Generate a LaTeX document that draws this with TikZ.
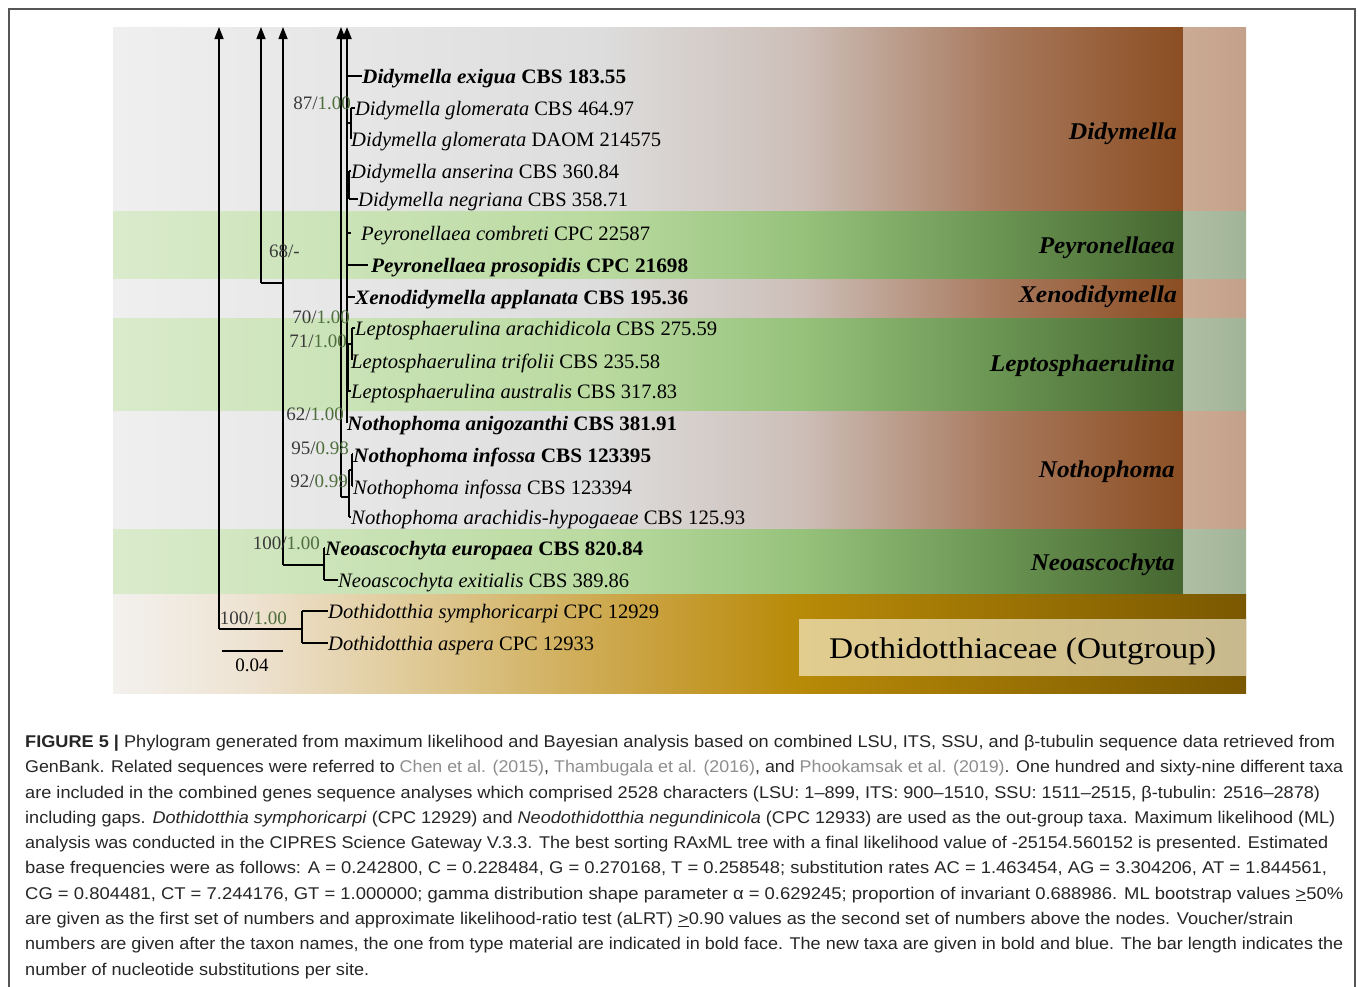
\documentclass[tikz,border=0pt]{standalone}
\usepackage{fontspec}
\usepackage{graphicx}
\setmainfont{Liberation Serif}
\newfontfamily\capfont{Liberation Sans}
\usetikzlibrary{arrows.meta}

\definecolor{bb0}{HTML}{EFEFEF}
\definecolor{bb1}{HTML}{DDDDDD}
\definecolor{bb2}{HTML}{CDBFB8}
\definecolor{bb3}{HTML}{A8795D}
\definecolor{bb4}{HTML}{8B4E22}
\definecolor{gg0}{HTML}{DAEBCC}
\definecolor{gg1}{HTML}{BADAA0}
\definecolor{gg2}{HTML}{96C27C}
\definecolor{gg3}{HTML}{6A9452}
\definecolor{gg4}{HTML}{456630}
\definecolor{oo0}{HTML}{F3F1EE}
\definecolor{oo1}{HTML}{EEE3D2}
\definecolor{oo2}{HTML}{DCC48A}
\definecolor{oo3}{HTML}{C9A13E}
\definecolor{oo4}{HTML}{B88A08}
\definecolor{oo5}{HTML}{7A5800}
\definecolor{boxl}{HTML}{E2CD8F}
\definecolor{boxr}{HTML}{C8B98E}
\definecolor{sbl}{HTML}{CCAB95}
\definecolor{sbr}{HTML}{C3A08A}
\definecolor{sgl}{HTML}{AEBFA4}
\definecolor{sgr}{HTML}{A2B497}
\definecolor{supgreen}{HTML}{4E6E3C}
\definecolor{supgray}{HTML}{3A3A3A}
\definecolor{capgray}{HTML}{8E8E8E}
\definecolor{captext}{HTML}{262626}
\definecolor{framegray}{HTML}{555555}

\pgfdeclarehorizontalshading{bandB}{100bp}{color(0bp)=(bb0); color(25bp)=(bb0); color(47.8bp)=(bb1); color(57.1bp)=(bb2); color(66.4bp)=(bb3); color(75bp)=(bb4); color(100bp)=(bb4)}
\pgfdeclarehorizontalshading{bandG}{100bp}{color(0bp)=(gg0); color(25bp)=(gg0); color(47.8bp)=(gg1); color(57.1bp)=(gg2); color(66.4bp)=(gg3); color(75bp)=(gg4); color(100bp)=(gg4)}
\pgfdeclarehorizontalshading{bandO}{100bp}{color(0bp)=(oo0); color(25bp)=(oo0); color(31bp)=(oo1); color(39.9bp)=(oo2); color(48.7bp)=(oo3); color(55.3bp)=(oo4); color(75bp)=(oo5); color(100bp)=(oo5)}

\newcommand{\tiplab}[3]{\resizebox{#1pt}{\height}{\textit{#2} #3}}
\newcommand{\tipbold}[3]{\resizebox{#1pt}{\height}{\bfseries\textit{#2} #3}}
\newcommand{\fitw}[2]{\resizebox{#1pt}{\height}{#2}}
\newcommand{\sv}[2]{#1/\textcolor{supgreen}{#2}}

\begin{document}
\begin{tikzpicture}[x=1pt,y=-1pt,
  branch/.style={line width=1.4pt,black},
  spine/.style={line width=2.2pt,black},
  uparrow/.style={-{Triangle[length=12pt,width=9pt]}},
  tipnode/.style={anchor=west,inner sep=0pt,yshift=-3pt,font=\fontsize{20.5}{20.5}\selectfont},
  genusnode/.style={anchor=east,inner sep=0pt,font=\fontsize{24}{24}\selectfont\bfseries\itshape},
  supval/.style={anchor=east,inner sep=0pt,font=\fontsize{19}{19}\selectfont,text=supgray},
  capline/.style={anchor=west,inner sep=0pt,font=\capfont\fontsize{17}{17}\selectfont,text=captext}]
\useasboundingbox (0,0) rectangle (1358,986);
\fill[white] (0,0) rectangle (1358,986);
\draw[framegray,line width=1.3pt] (9,987) -- (9,9) -- (1355,9) -- (1355,987);

% bands
\shade[shading=bandB] (113,27) rectangle (1183,211);
\shade[shading=bandG] (113,211) rectangle (1183,279);
\shade[shading=bandB] (113,279) rectangle (1183,318);
\shade[shading=bandG] (113,318) rectangle (1183,411);
\shade[shading=bandB] (113,411) rectangle (1183,529);
\shade[shading=bandG] (113,529) rectangle (1183,594);
\shade[left color=sbl,right color=sbr] (1183,27) rectangle (1246,211);
\shade[left color=sgl,right color=sgr] (1183,211) rectangle (1246,279);
\shade[left color=sbl,right color=sbr] (1183,279) rectangle (1246,318);
\shade[left color=sgl,right color=sgr] (1183,318) rectangle (1246,411);
\shade[left color=sbl,right color=sbr] (1183,411) rectangle (1246,529);
\shade[left color=sgl,right color=sgr] (1183,529) rectangle (1246,594);
\shade[shading=bandO] (113,594) rectangle (1246,693);
\shade[left color=boxl,right color=boxr] (799,619) rectangle (1246,675);
\node[anchor=west,inner sep=0pt,font=\fontsize{30}{30}\selectfont] (outg) at (829,651) {\fitw{387}{Dothidotthiaceae (Outgroup)}};

% genus labels
\node[genusnode] (gDid) at (1177,134) {\fitw{108}{Didymella}};
\node[genusnode] (gPey) at (1175,248) {\fitw{136}{Peyronellaea}};
\node[genusnode] (gXen) at (1177,297) {\fitw{158}{Xenodidymella}};
\node[genusnode] (gLep) at (1175,366) {\fitw{185}{Leptosphaerulina}};
\node[genusnode] (gNot) at (1175,472) {\fitw{136}{Nothophoma}};
\node[genusnode] (gNeo) at (1175,565) {\fitw{144}{Neoascochyta}};

% tip labels
\node[tipnode] (L1) at (362,76) {\tipbold{264}{Didymella exigua}{CBS 183.55}};
\node[tipnode] (L2) at (355,108) {\tiplab{279}{Didymella glomerata}{CBS 464.97}};
\node[tipnode] (L3) at (351,139) {\tiplab{310}{Didymella glomerata}{DAOM 214575}};
\node[tipnode] (L4) at (351,171) {\tiplab{268}{Didymella anserina}{CBS 360.84}};
\node[tipnode] (L5) at (358,199) {\tiplab{270}{Didymella negriana}{CBS 358.71}};
\node[tipnode] (L6) at (361,233) {\tiplab{289}{Peyronellaea combreti}{CPC 22587}};
\node[tipnode] (L7) at (371,265) {\tipbold{317}{Peyronellaea prosopidis}{CPC 21698}};
\node[tipnode] (L8) at (355,297) {\tipbold{333}{Xenodidymella applanata}{CBS 195.36}};
\node[tipnode] (L9) at (355,328) {\tiplab{362}{Leptosphaerulina arachidicola}{CBS 275.59}};
\node[tipnode] (L10) at (351,360) {\tiplab{309}{Leptosphaerulina trifolii}{CBS 235.58}};
\node[tipnode] (L11) at (351,391) {\tiplab{326}{Leptosphaerulina australis}{CBS 317.83}};
\node[tipnode] (L12) at (347,423) {\tipbold{330}{Nothophoma anigozanthi}{CBS 381.91}};
\node[tipnode] (L13) at (353,454) {\tipbold{298}{Nothophoma infossa}{CBS 123395}};
\node[tipnode] (L14) at (353,486) {\tiplab{279}{Nothophoma infossa}{CBS 123394}};
\node[tipnode] (L15) at (351,517) {\tiplab{394}{Nothophoma arachidis-hypogaeae}{CBS 125.93}};
\node[tipnode] (L16) at (325,548) {\tipbold{318}{Neoascochyta europaea}{CBS 820.84}};
\node[tipnode] (L17) at (338,580) {\tiplab{291}{Neoascochyta exitialis}{CBS 389.86}};
\node[tipnode] (L18) at (328,611) {\tiplab{331}{Dothidotthia symphoricarpi}{CPC 12929}};
\node[tipnode] (L19) at (328,643) {\tiplab{266}{Dothidotthia aspera}{CPC 12933}};

% coordinates
\coordinate (a1) at (219,27);
\coordinate (a2) at (261,27);
\coordinate (a3) at (283,27);
\coordinate (a4) at (341,27);
\coordinate (a5) at (347,27);
\coordinate (root) at (219,629);
\coordinate (dn) at (302,629);
\coordinate (dt1) at (302,611);
\coordinate (dt2) at (302,643);
\coordinate (nb) at (283,565);
\coordinate (nn) at (324,565);
\coordinate (nt1) at (324,548);
\coordinate (nt2) at (324,580);
\coordinate (s0) at (261,283);
\coordinate (s1) at (283,283);
\coordinate (sp) at (347,423);
\coordinate (b341) at (341,497);
\coordinate (nob) at (349,497);
\coordinate (no1) at (349,470);
\coordinate (no2) at (349,517);
\coordinate (ni0) at (352,470);
\coordinate (ni1) at (352,454);
\coordinate (ni2) at (352,486);
\coordinate (e0) at (347,76);
\coordinate (g0) at (347,123);
\coordinate (g1) at (351,123);
\coordinate (g2) at (351,108);
\coordinate (g3) at (351,139);
\coordinate (an0) at (347,185);
\coordinate (an1) at (349,171);
\coordinate (an2) at (349,199);
\coordinate (an3) at (349,185);
\coordinate (pc0) at (347,233);
\coordinate (pc1) at (351,233);
\coordinate (pp0) at (347,265);
\coordinate (pp1) at (368,265);
\coordinate (x0) at (347,297);
\coordinate (lp0) at (347,368);
\coordinate (lp1) at (348,344);
\coordinate (lp2) at (348,391);
\coordinate (lp3) at (348,368);
\coordinate (li0) at (352,344);
\coordinate (li1) at (352,328);
\coordinate (li2) at (352,360);
\coordinate (sb1) at (222,651);
\coordinate (sb2) at (283,651);

% tree
\draw[branch,uparrow] (root) -- (a1);
\draw[branch] (root) -- (dn);
\draw[branch] (dt1) -- (dt2);
\draw[branch] (dt1) -- (dt1 -| L18.west);
\draw[branch] (dt2) -- (dt2 -| L19.west);
\draw[branch,uparrow] (nb) -- (a3);
\draw[branch] (nb) -- (nn);
\draw[branch] (nt1) -- (nt2);
\draw[branch] (nt1) -- (nt1 -| L16.west);
\draw[branch] (nt2) -- (nt2 -| L17.west);
\draw[branch,uparrow] (s0) -- (a2);
\draw[branch] (s0) -- (s1);
\draw[branch,uparrow] (b341) -- (a4);
\draw[branch] (b341) -- (nob);
\draw[spine,uparrow] (sp) -- (a5);
\draw[branch] (no1) -- (no2);
\draw[branch] (no2) -- (no2 -| L15.west);
\draw[branch] (no1) -- (ni0);
\draw[branch] (ni1) -- (ni2);
\draw[branch] (ni1) -- (ni1 -| L13.west);
\draw[branch] (ni2) -- (ni2 -| L14.west);
\draw[branch] (e0) -- (e0 -| L1.west);
\draw[branch] (g0) -- (g1);
\draw[branch] (g2) -- (g3);
\draw[branch] (g2) -- (g2 -| L2.west);
\draw[spine] (an1) -- (an2);
\draw[branch] (an0) -- (an3);
\draw[branch] (an1) -- (an1 -| L4.west);
\draw[branch] (an2) -- (an2 -| L5.west);
\draw[branch] (pc0) -- (pc1);
\draw[branch] (pp0) -- (pp1);
\draw[branch] (x0) -- (x0 -| L8.west);
\draw[branch] (lp1) -- (lp2);
\draw[branch] (lp0) -- (lp3);
\draw[branch] (lp2) -- (lp2 -| L11.west);
\draw[branch] (lp1) -- (li0);
\draw[branch] (li1) -- (li2);
\draw[branch] (li1) -- (li1 -| L9.west);
\draw[line width=1.2pt] (sb1) -- (sb2);
\node[inner sep=0pt,font=\fontsize{19}{19}\selectfont] (sbl) at (252,665) {0.04};

% support values
\node[supval] (s87) at (351,103) {\sv{87}{1.00}};
\node[supval] (s68) at (300,251) {68/-};
\node[supval] (s70) at (350,317) {\sv{70}{1.00}};
\node[supval] (s71) at (347,341) {\sv{71}{1.00}};
\node[supval] (s62) at (344,414) {\sv{62}{1.00}};
\node[supval] (s95) at (349,448) {\sv{95}{0.98}};
\node[supval] (s92) at (348,481) {\sv{92}{0.99}};
\node[supval] (s100a) at (320,543) {\sv{100}{1.00}};
\node[supval] (s100b) at (287,618) {\sv{100}{1.00}};

% caption
\node[capline] (c1) at (25,743) {\fitw{1310}{\textbf{FIGURE 5 |} Phylogram generated from maximum likelihood and Bayesian analysis based on combined LSU, ITS, SSU, and β-tubulin sequence data retrieved from}};
\node[capline] (c2) at (25,768.3) {\fitw{1318}{GenBank. Related sequences were referred to \textcolor{capgray}{Chen et al. (2015)}, \textcolor{capgray}{Thambugala et al. (2016)}, and \textcolor{capgray}{Phookamsak et al. (2019)}. One hundred and sixty-nine different taxa}};
\node[capline] (c3) at (25,793.6) {\fitw{1295}{are included in the combined genes sequence analyses which comprised 2528 characters (LSU: 1–899, ITS: 900–1510, SSU: 1511–2515, β-tubulin: 2516–2878)}};
\node[capline] (c4) at (25,818.9) {\fitw{1310}{including gaps. \textit{Dothidotthia symphoricarpi} (CPC 12929) and \textit{Neodothidotthia negundinicola} (CPC 12933) are used as the out-group taxa. Maximum likelihood (ML)}};
\node[capline] (c5) at (25,844.2) {\fitw{1303}{analysis was conducted in the CIPRES Science Gateway V.3.3. The best sorting RAxML tree with a final likelihood value of -25154.560152 is presented. Estimated}};
\node[capline] (c6) at (25,869.5) {\fitw{1302}{base frequencies were as follows: A = 0.242800, C = 0.228484, G = 0.270168, T = 0.258548; substitution rates AC = 1.463454, AG = 3.304206, AT = 1.844561,}};
\node[capline] (c7) at (25,894.8) {\fitw{1318}{CG = 0.804481, CT = 7.244176, GT = 1.000000; gamma distribution shape parameter α = 0.629245; proportion of invariant 0.688986. ML bootstrap values \underline{>}50\%}};
\node[capline] (c8) at (25,920.1) {\fitw{1268}{are given as the first set of numbers and approximate likelihood-ratio test (aLRT) \underline{>}0.90 values as the second set of numbers above the nodes. Voucher/strain}};
\node[capline] (c9) at (25,945.4) {\fitw{1318}{numbers are given after the taxon names, the one from type material are indicated in bold face. The new taxa are given in bold and blue. The bar length indicates the}};
\node[capline] (c10) at (25,970.7) {\fitw{344}{number of nucleotide substitutions per site.}};
\end{tikzpicture}
\end{document}
